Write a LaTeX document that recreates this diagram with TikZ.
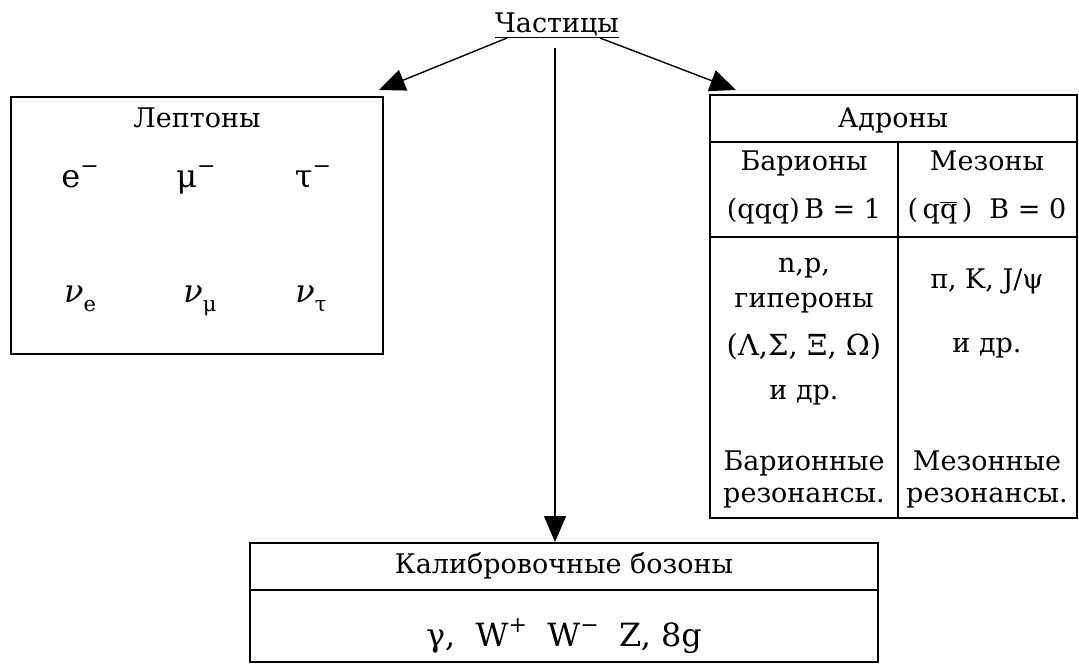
\documentclass[tikz,border=0pt]{standalone}
\usepackage{fontspec}
\setmainfont{DejaVu Serif}
\usetikzlibrary{arrows.meta,positioning}

\newcommand{\hi}[1]{\raisebox{0.8ex}{\fontsize{22}{22}\selectfont#1}}
\newcommand{\lo}[1]{\raisebox{-0.55ex}{\fontsize{21}{21}\selectfont#1}}

\begin{document}
\begin{tikzpicture}[x=1pt,y=-1pt,
  lbl/.style={font=\fontsize{27}{31}\selectfont, inner sep=0pt, anchor=base},
  sym/.style={font=\fontsize{32}{36}\selectfont, inner sep=0pt, anchor=base},
  frame/.style={draw, line width=2pt, inner sep=0pt},
  rule/.style={line width=1.8pt},
  arr/.style={line width=1.4pt, -{Triangle[length=26pt,width=22pt]}}]
\useasboundingbox (0,0) rectangle (1079,664);

% title
\node[lbl] (title) at (557,32) {\underline{Частицы}};

% leptons
\node[frame, minimum width=372pt, minimum height=257pt] (lep) at (197,225.5) {};
\node[lbl] (leptit) at (197,127) {Лептоны};
\node[sym] (el) at (80,187) {e\hi{−}};
\node[sym] (mu) at (196,187) {μ\hi{−}};
\node[sym] (tau) at (313,187) {τ\hi{−}};
\node[sym] (nue) at (80,302) {\textit{ν}\lo{e}};
\node[sym] (num) at (200,302) {\textit{ν}\lo{μ}};
\node[sym] (nut) at (311,302) {\textit{ν}\lo{τ}};

% hadrons
\node[frame, minimum width=367pt, minimum height=423pt] (had) at (893.5,306.5) {};
\draw[rule] (710,142) -- (1077,142);
\draw[rule] (710,237) -- (1077,237);
\draw[rule] (898,142) -- (898,518);
\node[lbl] (hadtit) at (893,127) {Адроны};
\node[lbl] (bar) at (804,170) {Барионы};
\node[lbl] (barq) at (804,218) {(qqq)\,B = 1};
\node[lbl] (mes) at (987,170) {Мезоны};
\node[lbl] (mesq) at (987,218) {(\,q$\overline{\mbox{q}}$\,)\ \ B = 0};
\node[lbl] (np) at (804,272) {n,p,};
\node[lbl] (hyp) at (804,307) {гипероны};
\node[lbl, font=\fontsize{29}{33}\selectfont] (hypl) at (804,355) {(Λ,Σ, Ξ, Ω)};
\node[lbl] (bdr) at (804,399) {и др.};
\node[lbl] (bres) at (804,470) {Барионные};
\node[lbl] (bres2) at (804,502) {резонансы.};
\node[lbl] (pik) at (987,288) {π, K, J/ψ};
\node[lbl] (mdr) at (987,352) {и др.};
\node[lbl] (mres) at (987,470) {Мезонные};
\node[lbl] (mres2) at (987,502) {резонансы.};

% gauge bosons
\node[frame, minimum width=628pt, minimum height=119pt] (gauge) at (564,602.5) {};
\draw[rule] (250,590) -- (878,590);
\node[lbl] (gtit) at (564,573) {Калибровочные бозоны};
\node[sym] (glist) at (564,646) {γ,\ \ W\hi{+}\ \ W\hi{−}\ \ Z, 8g};

% arrows
\coordinate (tl) at (507,38);
\coordinate (tr) at (600,38);
\coordinate (tm) at (555,48);
\draw[arr] (tl) -- ([xshift=-5pt,yshift=6pt]lep.north east);
\draw[arr] (tr) -- ([xshift=27pt,yshift=4pt]had.north west);
\draw[arr] (tm) -- (tm |- gauge.north);
\end{tikzpicture}
\end{document}
